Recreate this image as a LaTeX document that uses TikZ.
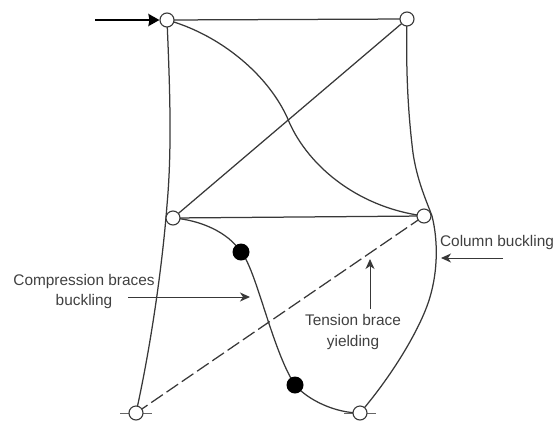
\documentclass[tikz,border=0pt]{standalone}
\usepackage{fontspec}
\setmainfont{Liberation Sans}
\usetikzlibrary{arrows.meta}
\definecolor{ln}{gray}{0.22}
\tikzset{
 joint/.style={circle,draw=ln,fill=white,line width=1.1pt,minimum size=14pt,inner sep=0pt},
 hinge/.style={circle,fill=black,minimum size=17pt,inner sep=0pt},
 member/.style={draw=ln,line width=1.25pt},
 lead/.style={draw=ln,line width=1pt,-{Stealth[length=10pt,width=9pt,inset=3pt]}},
 lbl/.style={text=black!75,font=\fontsize{15.4}{20.5}\selectfont,align=center,inner sep=0pt},
 base/.style={draw=black!60,line width=1pt}
}
\begin{document}
\begin{tikzpicture}[x=1pt,y=-1pt]
\useasboundingbox (0,0) rectangle (554,421);
\coordinate (tl) at (167,20);
\coordinate (tr) at (407,19);
\coordinate (ml) at (173,218);
\coordinate (mr) at (424,216);
\coordinate (bl) at (136,413);
\coordinate (br) at (360,413);
\coordinate (h1) at (241,252);
\coordinate (h2) at (295,385);
\coordinate (baL1) at (120,413);
\coordinate (baL2) at (152,413);
\coordinate (baR1) at (344,413);
\coordinate (baR2) at (376,413);
\draw[base] (baL1) -- (baL2);
\draw[base] (baR1) -- (baR2);
% frame
\draw[member] (tl) -- (tr);
\draw[member] (ml) -- (mr);
\draw[member] (ml) -- (tr);
\draw[member,dash pattern=on 14pt off 4.5pt] (bl) -- (mr);
% columns
\draw[member] (tl) .. controls (170,90) and (172,150) .. (167,205) .. controls (162,270) and (150,350) .. (bl);
\draw[member] (tr) .. controls (406,60) and (407,105) .. (413,153) .. controls (417,180) and (426,200) .. (432,216) .. controls (438,240) and (438,270) .. (430,297) .. controls (422,325) and (395,372) .. (br);
% braces
\draw[member] (tl) .. controls (215,33) and (265,70) .. (287,117) .. controls (305,163) and (355,207) .. (mr);
\draw[member] (ml) .. controls (200,220) and (228,232) .. (h1) .. controls (256,268) and (272,350) .. (h2) .. controls (308,400) and (335,413) .. (br);
% joints
\node[joint] (ntl) at (tl) {};
\node[joint] (ntr) at (tr) {};
\node[joint] (nml) at (ml) {};
\node[joint] (nmr) at (mr) {};
\node[joint] (nbl) at (bl) {};
\node[joint] (nbr) at (br) {};
\node[hinge] (nh1) at (h1) {};
\node[hinge] (nh2) at (h2) {};
% load arrow
\coordinate (loadstart) at (95,20);
\draw[line width=2.4pt,-{Stealth[length=11pt,width=12pt,inset=1pt]}] (loadstart) -- (ntl);
% labels
\node[lbl] (cb) at (84,291.5) {Compression braces\\buckling};
\node[lbl] (tb) at (353,332) {Tension brace\\yielding};
\node[lbl] (col) at (497,243) {Column buckling};
\coordinate (a1s) at (128,297);
\coordinate (a1e) at (250,297);
\coordinate (a2s) at (370,309);
\coordinate (a2e) at (370,259);
\coordinate (a3s) at (503,258);
\coordinate (a3e) at (441,258);
\draw[lead] (a1s) -- (a1e);
\draw[lead] (a2s) -- (a2e);
\draw[lead] (a3s) -- (a3e);
\end{tikzpicture}
\end{document}
